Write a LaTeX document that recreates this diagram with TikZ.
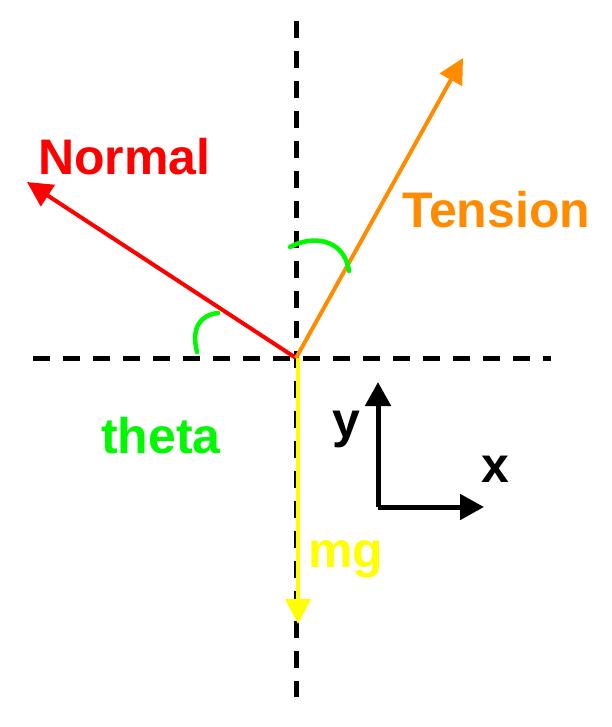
\documentclass[tikz,border=0pt]{standalone}
\usepackage{fontspec}
\setmainfont{Liberation Sans}
\usetikzlibrary{arrows.meta}
\definecolor{fred}{RGB}{255,0,0}
\definecolor{forange}{RGB}{255,140,0}
\definecolor{fgreen}{RGB}{0,248,0}
\definecolor{fyellow}{RGB}{255,255,0}
\begin{document}
\begin{tikzpicture}[x=1pt,y=-1pt,
  axisline/.style={line width=5pt,dash pattern=on 16.7pt off 13.3pt},
  force/.style={line width=4pt,-{Triangle[length=25pt,width=25pt]}},
  anglearc/.style={fgreen,line width=4.5pt,line cap=round},
  lbl/.style={inner sep=0pt,anchor=base west,font=\bfseries\fontsize{50}{50}\selectfont}]
\useasboundingbox (0,0) rectangle (611,727);
\coordinate (O) at (296,358);
\coordinate (hL) at (33,358);
\coordinate (hR) at (551,358);
\coordinate (vT) at (296,21);
\coordinate (vB) at (296,697);
\coordinate (nTip) at (27,182);
\coordinate (tTip) at (463,58);
\coordinate (gTop) at (298,358);
\coordinate (gTip) at (298,624);
\coordinate (yTip) at (378,382);
\coordinate (corner) at (378,507);
\coordinate (xTip) at (484,507);
\draw[axisline] (hL) -- (hR);
\draw[axisline] (vT) -- (vB);
\draw[force,fred] (O) -- (nTip);
\draw[force,forange] (O) -- (tTip);
\draw[force,fyellow] (gTop) -- (gTip);
\draw[line width=5pt,-{Triangle[length=24pt,width=25pt]}] (corner) -- (yTip);
\draw[line width=5pt,-{Triangle[length=24pt,width=25pt]}] (corner) -- (xTip);
\coordinate (a1s) at (197,352);
\coordinate (a1e) at (218,313);
\draw[anglearc] (a1s) .. controls (191,328) and (200,315) .. (a1e);
\coordinate (a2s) at (290,247);
\coordinate (a2e) at (349,271);
\draw[anglearc] (a2s) .. controls (312,235) and (344,238) .. (a2e);
\node[lbl,text=fred] (normal) at (38,175) {Normal};
\node[lbl,text=forange] (tension) at (402,227) {Tension};
\node[lbl,text=fgreen] (theta) at (101,453) {theta};
\node[lbl,text=fyellow] (mg) at (308,567) {mg};
\node[lbl] (ylab) at (332,437) {y};
\node[lbl] (xlab) at (481,482) {x};
\end{tikzpicture}
\end{document}
